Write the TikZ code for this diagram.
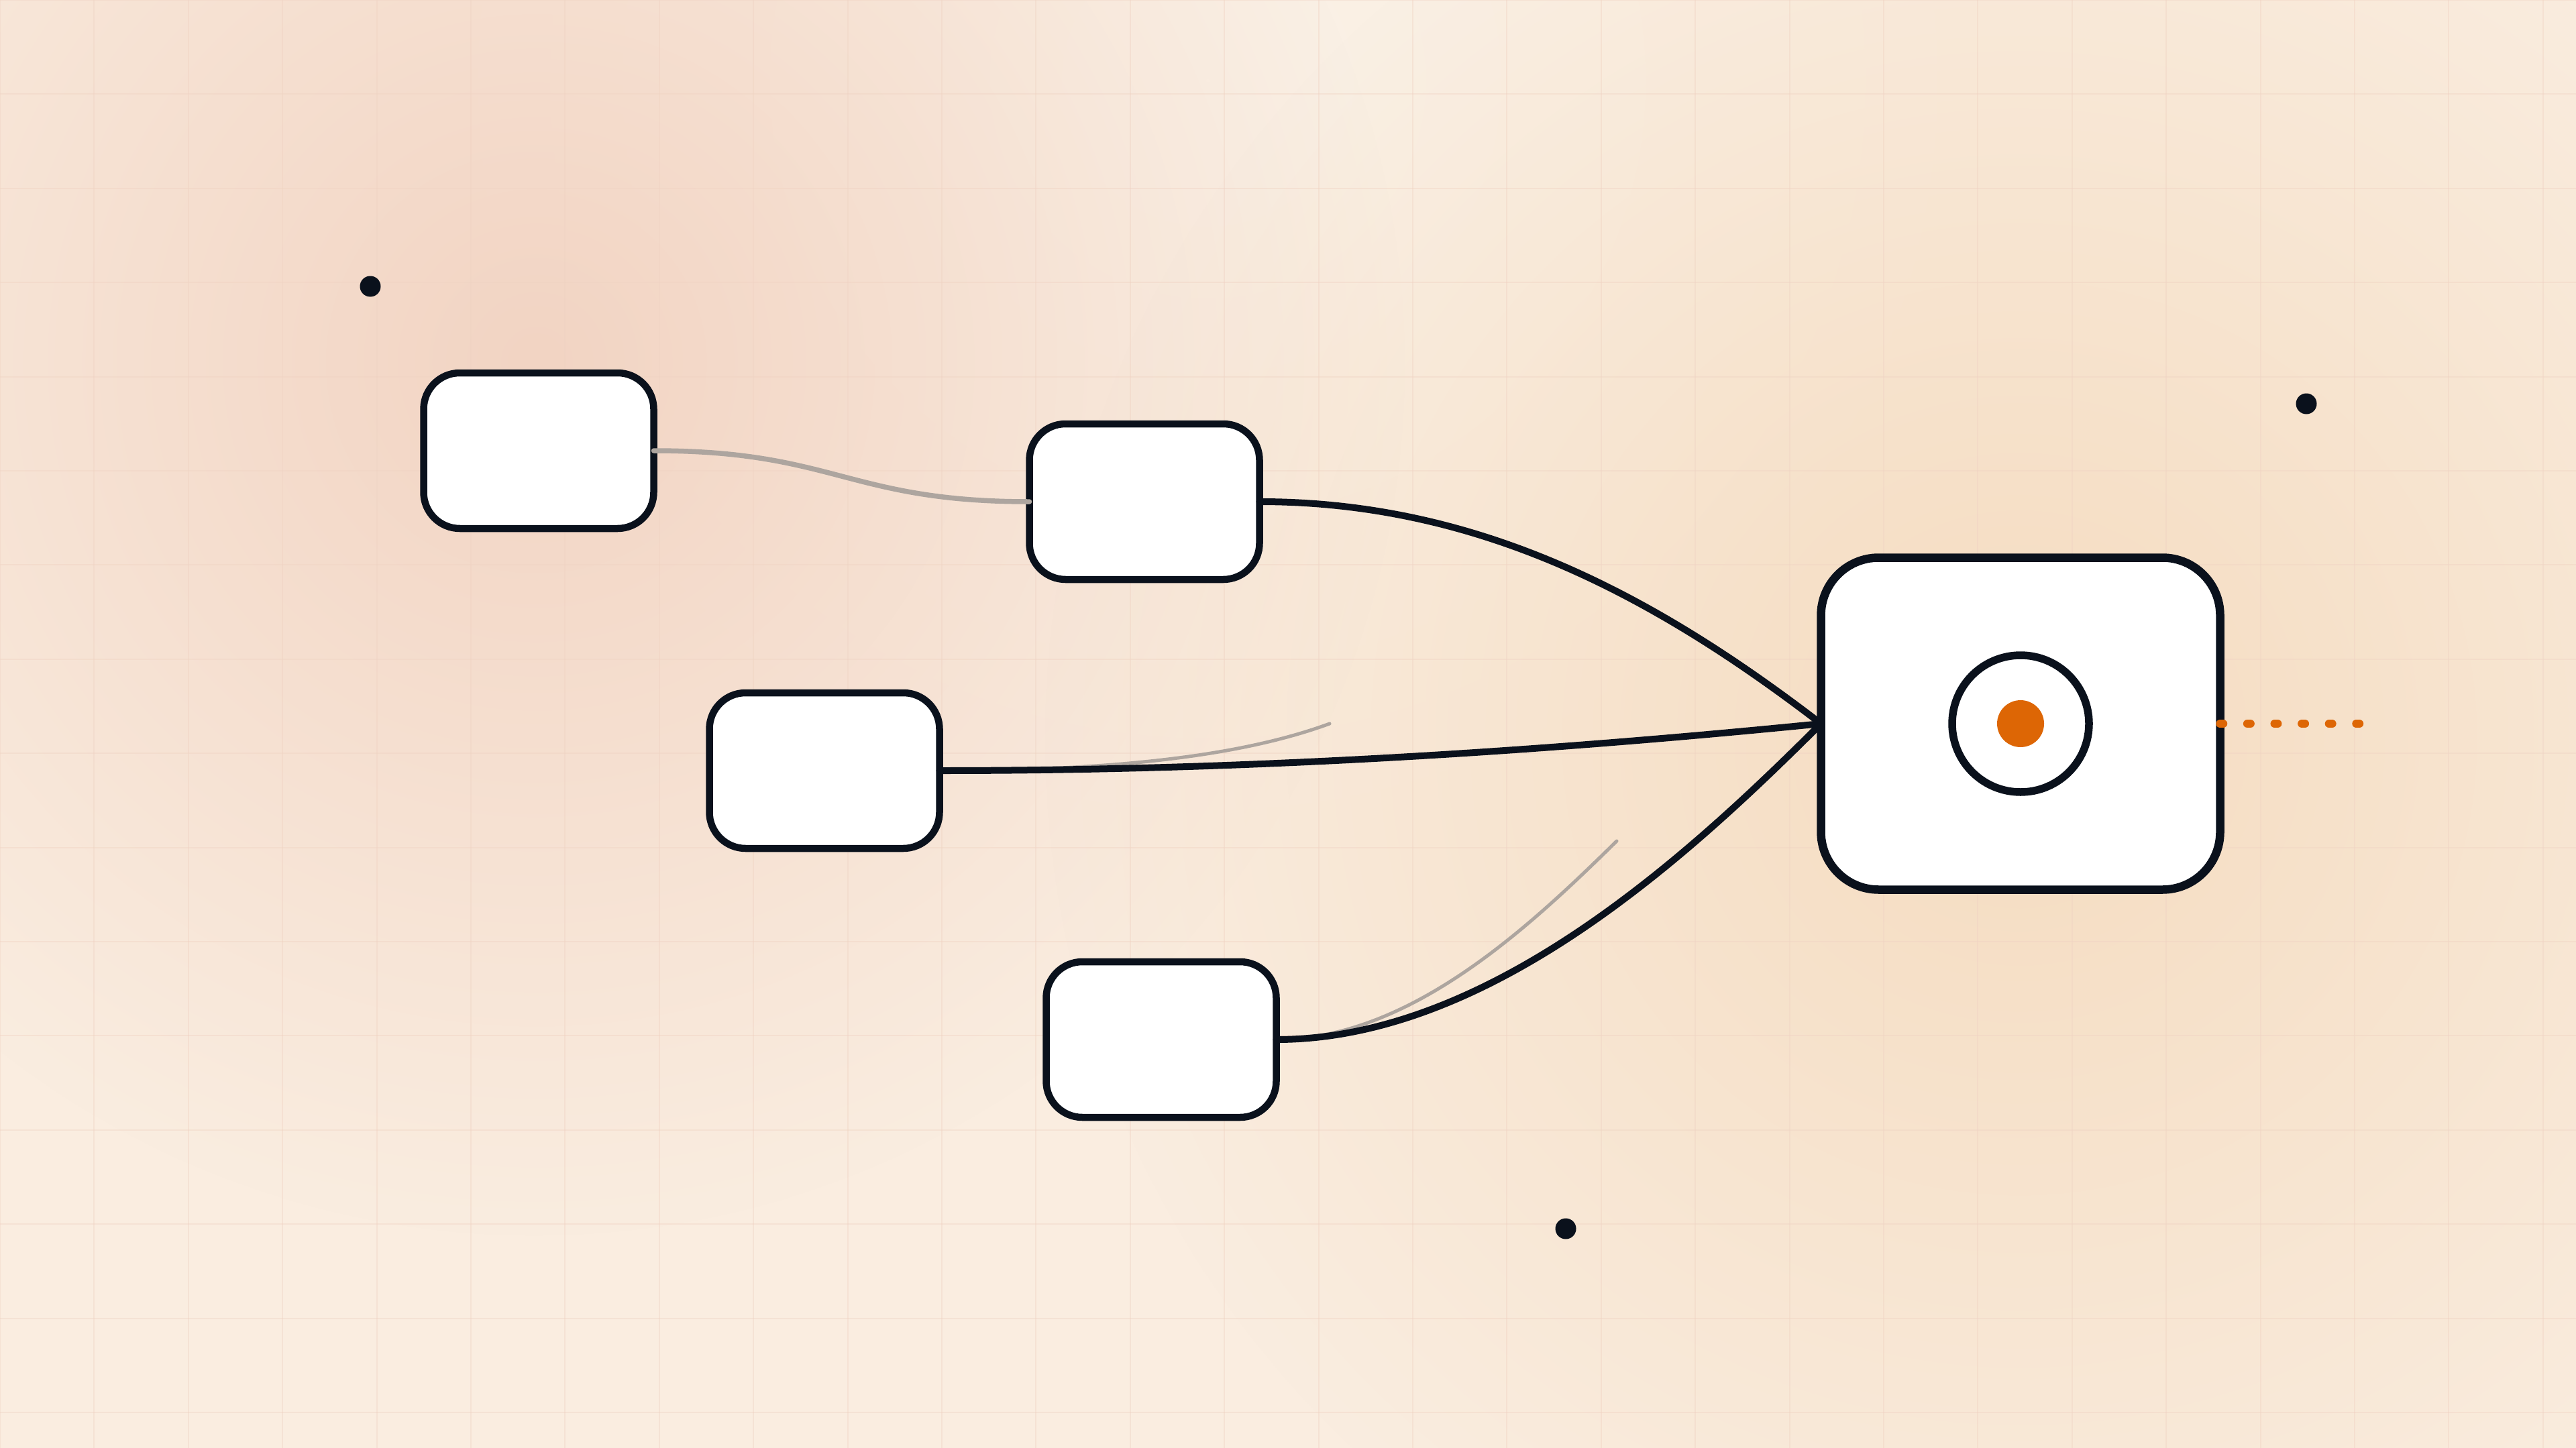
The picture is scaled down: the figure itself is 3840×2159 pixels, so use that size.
\documentclass[tikz,border=0pt]{standalone}
\usetikzlibrary{fadings}
\definecolor{bg}{HTML}{FAEDE0}
\definecolor{bglight}{HTML}{FBF1E6}
\definecolor{pinkblob}{HTML}{F2D4C3}
\definecolor{peachblob}{HTML}{F5DCC0}
\definecolor{gridc}{HTML}{EFD2C2}
\definecolor{ink}{HTML}{0A111C}
\definecolor{ghost}{HTML}{ADA59F}
\definecolor{accent}{HTML}{DD6605}
\tikzfading[name=softblob, inner color=transparent!0, outer color=transparent!100]
\begin{document}
\begin{tikzpicture}[x=1pt,y=-1pt,
  box/.style={draw=ink, line width=10.5pt, fill=white, rounded corners=54pt,
    minimum width=343pt, minimum height=232pt, inner sep=0pt, outer sep=0pt},
  bigbox/.style={draw=ink, line width=12.5pt, fill=white, rounded corners=86pt,
    minimum width=595pt, minimum height=495pt, inner sep=0pt, outer sep=0pt},
  wire/.style={draw=ink, line width=10pt, line cap=round},
  link/.style={draw=ghost, line width=7.5pt, line cap=round},
  faint/.style={draw=ghost, line width=5pt, line cap=round},
  blackdot/.style={circle, fill=ink, minimum size=31pt, inner sep=0pt},
  gridline/.style={draw=gridc, line width=2pt, opacity=0.4},
]
\useasboundingbox (0,0) rectangle (3840,2159);
\fill[bg] (0,0) rectangle (3840,2159);
\begin{scope}
  \clip (0,0) rectangle (3840,2159);
  \fill[bglight, path fading=softblob] (1800,120) circle (1300);
  \fill[pinkblob, path fading=softblob] (800,540) circle (1300);
  \fill[peachblob, path fading=softblob] (3010,1100) circle (1450);
  \foreach \i in {0,...,27} {
    \draw[gridline] (\i*140.4,0) -- (\i*140.4,2159);
  }
  \foreach \j in {0,...,15} {
    \draw[gridline] (0,\j*140.4) -- (3840,\j*140.4);
  }
\end{scope}

% nodes
\node[box] (A) at (803,672) {};
\node[box] (B) at (1706,748) {};
\node[box] (C) at (1229,1149) {};
\node[box] (D) at (1731,1550) {};
\node[bigbox] (E) at (3012,1079) {};
\node[circle, draw=ink, line width=11.5pt, fill=white, minimum size=204pt, inner sep=0pt] (ring) at (E.center) {};
\node[circle, fill=accent, minimum size=70pt, inner sep=0pt] (core) at (E.center) {};

% scattered dots
\node[blackdot] (d1) at (552,427) {};
\node[blackdot] (d2) at (3438,602) {};
\node[blackdot] (d3) at (2334,1832) {};

% faint traces
\coordinate (g1) at (1982,1079);
\coordinate (g2) at (2410,1254);
\draw[faint] (C.east) .. controls +(284,0) and +(-120,44) .. (g1);
\draw[faint] (D.east) .. controls +(198,0) and +(-132,130) .. (g2);

% connectors
\draw[link] (A.east) .. controls +(270,0) and +(-270,0) .. (B.west);
\draw[wire] (B.east) .. controls +(321,0) and +(-255,-196) .. (E.west);
\draw[wire] (C.east) .. controls +(440,0) and +(-440,44) .. (E.west);
\draw[wire] (D.east) .. controls +(318,0) and +(-196,196) .. (E.west);

% dotted output
\coordinate (out) at (3520,1079);
\draw[accent, line width=12.5pt, line cap=round, dash pattern=on 4.5pt off 36.1pt] (E.east) -- (out);
\end{tikzpicture}
\end{document}
